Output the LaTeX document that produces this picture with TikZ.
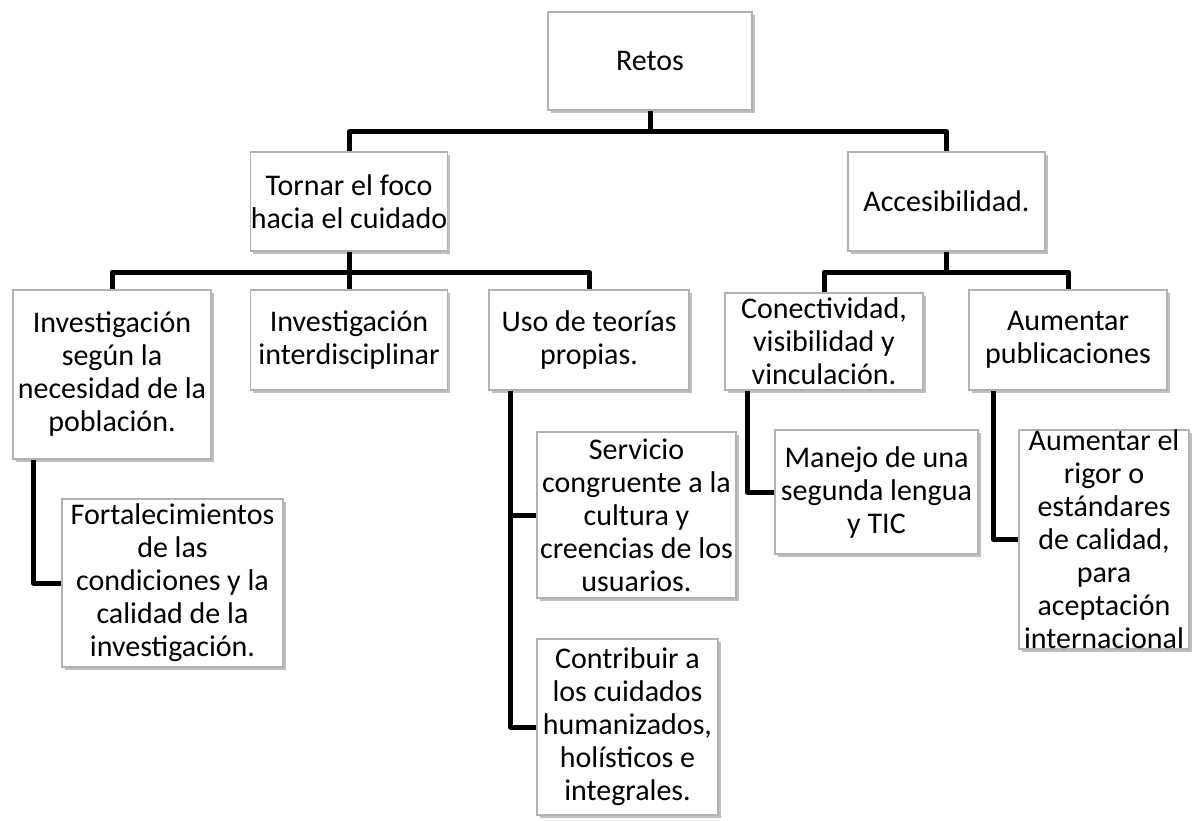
\documentclass[tikz,border=0pt]{standalone}
\usepackage{fontspec}
\setmainfont{Carlito}
\usepackage{tikz}
\usetikzlibrary{shadows}

\tikzset{
  box/.style={draw=gray!60, line width=1.3pt, fill=white, align=center, inner sep=0pt,
    font=\fontsize{30}{33}\selectfont,
    drop shadow={shadow xshift=2.5pt, shadow yshift=-3pt, opacity=0.25, fill=black}},
  conn/.style={line width=5pt, line join=round, line cap=butt}
}

\begin{document}
\begin{tikzpicture}[x=1pt, y=-1pt]
\useasboundingbox (0,0) rectangle (1199,821);

%level 1
\node[box, minimum width=204, minimum height=98] (retos) at (650,61) {Retos};
\node[box, minimum width=196, minimum height=99] (tornar) at (349,201.5) {Tornar el foco\\hacia el cuidado};
\node[box, minimum width=197, minimum height=99] (acces) at (946.5,201.5) {Accesibilidad.};

%level 2
\node[box, minimum width=198, minimum height=169] (invsegun) at (112,374.5) {Investigación\\según la\\necesidad de la\\población.};
\node[box, minimum width=197, minimum height=100] (invinter) at (349,340) {Investigación\\interdisciplinar};
\node[box, minimum width=200, minimum height=100] (uso) at (589,340) {Uso de teorías\\propias.};
\node[box, minimum width=198, minimum height=97] (conect) at (824,341.5) {Conectividad,\\visibilidad y\\vinculación.};
\node[box, minimum width=198, minimum height=100] (aumpub) at (1068,340) {Aumentar\\publicaciones};

%level 3
\node[box, minimum width=221, minimum height=168] (fortal) at (172.5,583) {Fortalecimientos\\de las\\condiciones y la\\calidad de la\\investigación.};
\node[box, minimum width=199, minimum height=166] (servicio) at (636.5,515) {Servicio\\congruente a la\\cultura y\\creencias de los\\usuarios.};
\node[box, minimum width=181, minimum height=176] (contrib) at (627.5,727) {Contribuir a\\los cuidados\\humanizados,\\holísticos e\\integrales.};
\node[box, minimum width=203, minimum height=124] (manejo) at (876.5,492) {Manejo de una\\segunda lengua\\y TIC};
\node[box, minimum width=170, minimum height=217] (aumrigor) at (1104,539.5) {Aumentar el\\rigor o\\estándares\\de calidad,\\para\\aceptación\\internacional};

%bus lines
\coordinate (b1) at (650,132);
\coordinate (b2) at (349,272);
\coordinate (b3) at (946.5,272);

%connectors
\draw[conn] (retos.south) -- (b1);
\draw[conn] (tornar.north) |- (b1) -| (acces.north);
\draw[conn] (tornar.south) -- (b2);
\draw[conn] (invsegun.north) |- (b2) -| (uso.north);
\draw[conn] (b2) -- (invinter.north);
\draw[conn] (acces.south) -- (b3);
\draw[conn] (conect.north) |- (b3) -| (aumpub.north);

\draw[conn] ([xshift=21pt]invsegun.south west) |- (fortal.west);
\draw[conn] ([xshift=22pt]uso.south west) |- (servicio.west);
\draw[conn] ([xshift=22pt]uso.south west) |- (contrib.west);
\draw[conn] ([xshift=23pt]conect.south west) |- (manejo.west);
\draw[conn] ([xshift=25pt]aumpub.south west) |- (aumrigor.west);
\end{tikzpicture}
\end{document}
